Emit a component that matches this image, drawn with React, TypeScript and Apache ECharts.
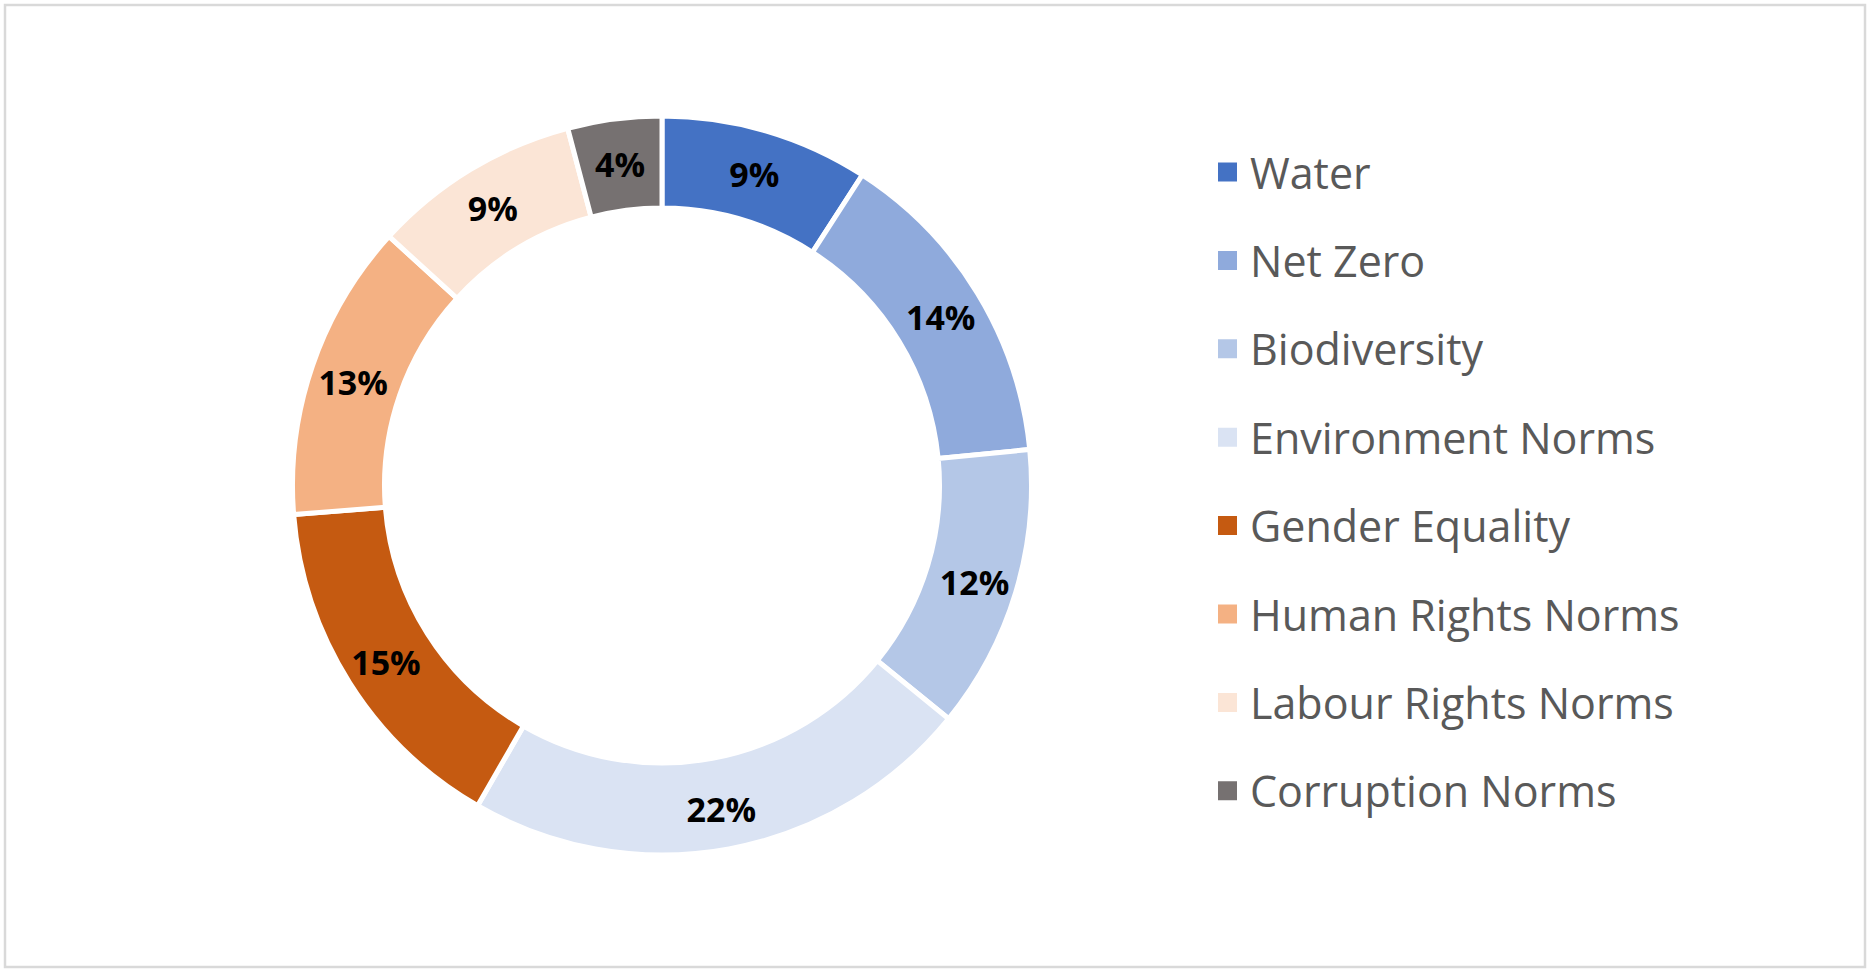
import React, { useEffect, useRef } from "react";
import * as echarts from "echarts";

const categories = [
  "Water",
  "Net Zero",
  "Biodiversity",
  "Environment Norms",
  "Gender Equality",
  "Human Rights Norms",
  "Labour Rights Norms",
  "Corruption Norms",
];
const values = [9.1, 14.3, 12.4, 22.4, 15.4, 13.0, 9.1, 4.1];
const colors = [
  "#4472C4",
  "#8FAADC",
  "#B4C7E7",
  "#DAE3F3",
  "#C55A11",
  "#F4B183",
  "#FBE5D6",
  "#767171",
];

export default function App() {
  const ref = useRef<HTMLDivElement>(null);
  useEffect(() => {
    if (!ref.current) return;
    const chart = echarts.init(ref.current, null, { renderer: "svg" });
    const gap = 5;
    const data = categories.map((name, i) => ({
      name,
      value: values[i],
      itemStyle: { color: colors[i] },
    }));
    chart.setOption({
      animation: false,
      backgroundColor: "#ffffff",
      graphic: [
        {
          type: "rect",
          shape: { x: 5, y: 5, width: 1860, height: 962 },
          style: { fill: "none", stroke: "#d9d9d9", lineWidth: 2.5 },
          silent: true,
        },
      ],
      legend: {
        orient: "vertical",
        left: 1216,
        top: 146,
        padding: 0,
        itemWidth: 21,
        itemHeight: 21,
        itemGap: 36.4,
        icon: "rect",
        data: categories,
        textStyle: {
          fontFamily: "Open Sans",
          fontSize: 43,
          lineHeight: 44,
          color: "#595959",
          padding: [0, 0, 8, 7],
        },
      },
      series: [
        {
          type: "pie",
          center: [662, 485.5],
          radius: [280 - gap / 2, 367 + gap / 2],
          startAngle: 90,
          clockwise: true,
          avoidLabelOverlap: false,
          itemStyle: { borderColor: "#ffffff", borderWidth: gap },
          label: {
            show: true,
            position: "inside",
            offset: [0, 2],
            formatter: (p: any) => Math.round(p.percent) + "%",
            fontFamily: "Open Sans",
            fontWeight: "bold",
            fontSize: 34,
            color: "#000000",
          },
          labelLine: { show: false },
          emphasis: { disabled: true },
          data,
        },
      ],
    });
    return () => chart.dispose();
  }, []);
  return (
    <div
      ref={ref}
      style={{ position: "fixed", left: 0, top: 0, width: 1870, height: 976 }}
    />
  );
}
